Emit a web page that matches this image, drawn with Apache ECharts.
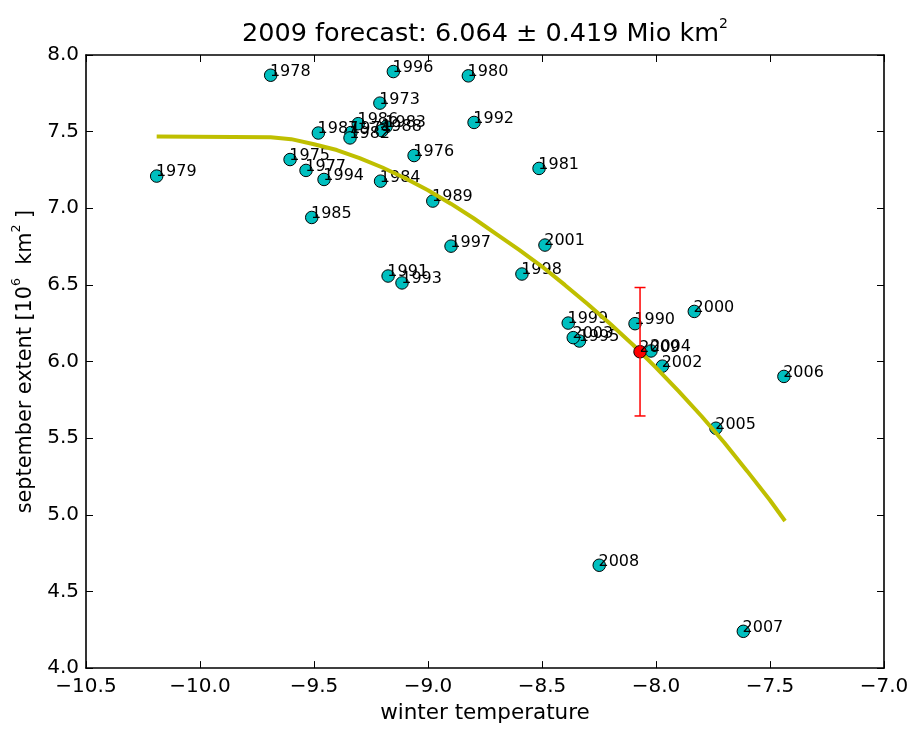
<!DOCTYPE html>
<html><head><meta charset="utf-8">
<script src="https://cdn.jsdelivr.net/npm/echarts@6/dist/echarts.min.js"></script>
<style>html,body{margin:0;padding:0;background:#fff}#c{width:915px;height:729px}</style>
</head><body><div id="c"></div>
<script>
// observed years
const years = ['1973','1974','1975','1976','1977','1978','1979','1980','1981','1982','1983','1984','1985','1986','1987','1988','1989','1990','1991','1992','1993','1994','1995','1996','1997','1998','1999','2000','2001','2002','2003','2004','2005','2006','2007','2008'];
// winter temperature
const temps = [-9.211,-9.338,-9.605,-9.061,-9.535,-9.690,-10.190,-8.823,-8.513,-9.342,-9.184,-9.208,-9.510,-9.306,-9.481,-9.202,-8.979,-8.092,-9.175,-8.798,-9.114,-9.456,-8.336,-9.152,-8.899,-8.588,-8.385,-7.832,-8.487,-7.972,-8.363,-8.022,-7.737,-7.439,-7.617,-8.249];
// september extent (10^6 km^2)
const extents = [7.686,7.494,7.318,7.344,7.247,7.868,7.210,7.864,7.260,7.459,7.532,7.177,6.940,7.552,7.491,7.506,7.047,6.247,6.558,7.560,6.513,7.188,6.134,7.892,6.753,6.571,6.251,6.327,6.760,5.970,6.156,6.069,5.565,5.903,4.240,4.671];
// fitted curve
const fitX = [-10.19,-9.69,-9.6,-9.5,-9.4,-9.3,-9.2,-9.1,-9.0,-8.9,-8.8,-8.7,-8.6,-8.5,-8.4,-8.3,-8.2,-8.1,-8.07,-8.0,-7.9,-7.8,-7.7,-7.6,-7.5,-7.434];
const fitY = [7.468,7.463,7.451,7.418,7.380,7.327,7.266,7.196,7.117,7.030,6.935,6.832,6.728,6.620,6.500,6.375,6.245,6.108,6.064,5.960,5.805,5.643,5.470,5.285,5.095,4.960];
// forecast
const forecastYear = '2009';
const forecastX = -8.07;
const forecastY = 6.064;
const forecastErr = 0.419;
// axes
const xMin = -10.5, xMax = -7.0, xStep = 0.5;
const yMin = 4.0, yMax = 8.0, yStep = 0.5;

const FONT = 'DejaVu Sans';
const fmt = v => v.toFixed(1).replace('-', '\u2212');

const pts = years.map((y, i) => ({name: y, value: [temps[i], extents[i]]}));
const fitData = fitX.map((x, i) => [x, fitY[i]]);

const axisCommon = {
  type: 'value', scale: false,
  axisLine: {show: true, onZero: false, lineStyle: {color: '#000', width: 1.6}},
  axisTick: {show: true, inside: true, length: 7, lineStyle: {color: '#000', width: 1}},
  splitLine: {show: false}
};

const ptLabel = {
  show: true, formatter: '{b}', position: [6, 11], align: 'left', verticalAlign: 'bottom',
  fontFamily: FONT, fontSize: 16, color: '#000'
};

const chart = echarts.init(document.getElementById('c'), null, {renderer: 'canvas'});
chart.setOption({
  animation: false,
  backgroundColor: '#fff',
  title: {
    text: '{a|2009 forecast: 6.064 \u00b1 0.419 Mio km}{s|2}',
    left: 480, top: 12, textAlign: 'center',
    textStyle: {
      fontWeight: 'normal',
      rich: {
        a: {fontFamily: FONT, fontSize: 25.5, fontWeight: 'normal', color: '#000', lineHeight: 30, verticalAlign: 'bottom'},
        s: {fontFamily: FONT, fontSize: 14, fontWeight: 'normal', color: '#000', lineHeight: 30, verticalAlign: 'top'}
      }
    }
  },
  grid: {left: 86, right: 31, top: 55, bottom: 58, containLabel: false},
  xAxis: [
    Object.assign({}, axisCommon, {
      min: xMin, max: xMax, interval: xStep, position: 'bottom',
      name: 'winter temperature', nameLocation: 'middle', nameGap: 31,
      nameTextStyle: {fontFamily: FONT, fontSize: 21.5, color: '#000'},
      axisLabel: {formatter: fmt, fontFamily: FONT, fontSize: 20, color: '#000', margin: 9}
    }),
    Object.assign({}, axisCommon, {
      min: xMin, max: xMax, interval: xStep, position: 'top',
      axisLabel: {show: false}
    })
  ],
  yAxis: [
    Object.assign({}, axisCommon, {
      min: yMin, max: yMax, interval: yStep, position: 'left',
      name: '{a|september extent [10}{s|6}{a|  km}{s|2}{a| ]}',
      nameLocation: 'middle', nameGap: 50, nameRotate: 90,
      nameTextStyle: {
        rich: {
          a: {fontFamily: FONT, fontSize: 20.8, color: '#000', lineHeight: 26, verticalAlign: 'bottom'},
          s: {fontFamily: FONT, fontSize: 12.5, color: '#000', lineHeight: 26, verticalAlign: 'top'}
        }
      },
      axisLabel: {formatter: fmt, fontFamily: FONT, fontSize: 20, color: '#000', margin: 7}
    }),
    Object.assign({}, axisCommon, {
      min: yMin, max: yMax, interval: yStep, position: 'right',
      axisLabel: {show: false}
    })
  ],
  series: [
    {
      type: 'scatter', data: pts, symbol: 'circle', symbolSize: 12.5, z: 2,
      itemStyle: {color: '#00bfbf', borderColor: '#000', borderWidth: 1, opacity: 1},
      label: ptLabel,
      emphasis: {disabled: true}
    },
    {
      type: 'line', data: fitData, showSymbol: false, symbol: 'none', z: 3,
      lineStyle: {color: '#bfbf00', width: 4}, emphasis: {disabled: true}
    },
    {
      type: 'scatter', data: [{name: forecastYear, value: [forecastX, forecastY]}], symbolSize: 12.5, z: 4,
      itemStyle: {color: '#ff0000', borderColor: '#000', borderWidth: 1, opacity: 1},
      label: ptLabel,
      emphasis: {disabled: true}
    },
    {
      type: 'custom', z: 5,
      data: [[forecastX, forecastY - forecastErr, forecastY + forecastErr]],
      encode: {x: 0, y: [1, 2]},
      renderItem: function (params, api) {
        const x = api.value(0);
        const lo = api.coord([x, api.value(1)]);
        const hi = api.coord([x, api.value(2)]);
        const w = 5.5;
        const st = {stroke: '#ff0000', lineWidth: 1.5};
        return {type: 'group', children: [
          {type: 'line', shape: {x1: lo[0], y1: lo[1], x2: hi[0], y2: hi[1]}, style: st},
          {type: 'line', shape: {x1: lo[0] - w, y1: lo[1], x2: lo[0] + w, y2: lo[1]}, style: st},
          {type: 'line', shape: {x1: hi[0] - w, y1: hi[1], x2: hi[0] + w, y2: hi[1]}, style: st}
        ]};
      }
    }
  ]
});
</script>
</body></html>
